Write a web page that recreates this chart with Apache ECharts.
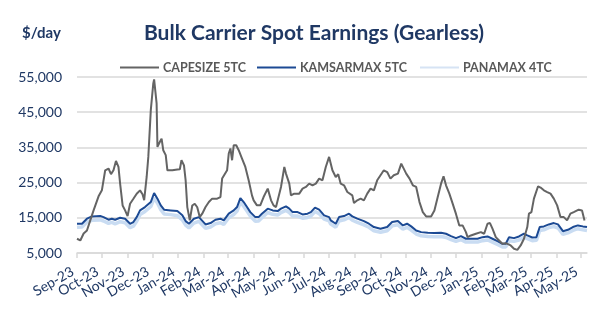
<!DOCTYPE html>
<html>
<head>
<meta charset="utf-8">
<script src="https://cdn.jsdelivr.net/npm/echarts@6/dist/echarts.min.js"></script>
<style>
html,body{margin:0;padding:0;background:#fff;}
#c{width:600px;height:323px;}
</style>
</head>
<body>
<div id="c"></div>
<script>
const seriesNames = ['CAPESIZE 5TC', 'KAMSARMAX 5TC', 'PANAMAX 4TC'];

const capeDates = [
'2023-09-01','2023-09-05','2023-09-09','2023-09-13','2023-09-17','2023-09-21','2023-09-27','2023-10-01','2023-10-05','2023-10-09',
'2023-10-12','2023-10-15','2023-10-18','2023-10-21','2023-10-23','2023-10-26','2023-10-29','2023-11-01','2023-11-04','2023-11-08',
'2023-11-12','2023-11-16','2023-11-19','2023-11-21','2023-11-24','2023-11-26','2023-11-29','2023-12-02','2023-12-03','2023-12-06',
'2023-12-07','2023-12-10','2023-12-12','2023-12-14','2023-12-17','2023-12-19','2023-12-25','2023-12-31','2024-01-03','2024-01-05',
'2024-01-08','2024-01-10','2024-01-12','2024-01-15','2024-01-18','2024-01-21','2024-01-24','2024-01-27','2024-01-30','2024-02-03',
'2024-02-07','2024-02-11','2024-02-17','2024-02-21','2024-02-23','2024-02-29','2024-03-02','2024-03-04','2024-03-06','2024-03-08',
'2024-03-11','2024-03-14','2024-03-18','2024-03-22','2024-03-26','2024-03-30','2024-04-01','2024-04-05','2024-04-09','2024-04-13',
'2024-04-18','2024-04-22','2024-04-25','2024-04-28','2024-04-30','2024-05-04','2024-05-08','2024-05-10','2024-05-14','2024-05-16',
'2024-05-20','2024-05-26','2024-05-30','2024-06-03','2024-06-07','2024-06-11','2024-06-15','2024-06-19','2024-06-23','2024-06-27',
'2024-07-01','2024-07-05','2024-07-09','2024-07-12','2024-07-15','2024-07-19','2024-07-23','2024-07-29','2024-07-31','2024-08-04',
'2024-08-08','2024-08-12','2024-08-16','2024-08-20','2024-08-24','2024-08-28','2024-09-01','2024-09-05','2024-09-09','2024-09-13',
'2024-09-17','2024-09-22','2024-09-26','2024-09-28','2024-10-02','2024-10-06','2024-10-10','2024-10-14','2024-10-18','2024-10-22',
'2024-10-26','2024-11-01','2024-11-05','2024-11-09','2024-11-13','2024-11-16','2024-11-19','2024-11-23','2024-11-27','2024-12-01',
'2024-12-05','2024-12-09','2024-12-13','2024-12-15','2024-12-19','2024-12-25','2024-12-31','2025-01-04','2025-01-08','2025-01-11',
'2025-01-14','2025-01-18','2025-01-22','2025-01-26','2025-01-30','2025-02-05','2025-02-09','2025-02-13','2025-02-17','2025-02-21',
'2025-02-25','2025-02-27','2025-03-02','2025-03-05','2025-03-07','2025-03-10','2025-03-13','2025-03-17','2025-03-21','2025-03-25',
'2025-03-29','2025-04-02','2025-04-06','2025-04-10','2025-04-14','2025-04-18','2025-04-22','2025-04-28','2025-05-02','2025-05-05'
];
const capeValues = [
9050,8560,10550,11400,14260,17100,21100,22800,28500,29000,
27400,28500,31150,29450,24700,18500,17100,15500,19000,20400,
21850,22800,21700,20000,26600,32300,45600,53200,54300,47500,
35150,36600,37500,34200,32800,28500,28500,28700,28800,31350,
29900,25650,18050,14260,18500,19000,18000,15200,16170,18050,
19470,20440,20440,20900,26140,28500,33260,34690,31350,35630,
35630,34200,31830,29440,25650,21380,19960,18530,18530,20900,
23290,19960,18530,18050,17600,23760,29440,27560,24700,21380,
21860,21860,23290,23760,24700,24230,24700,26140,25650,29440,
32300,28500,26600,27360,24700,24230,22320,21380,19190,19960,
20440,19960,21860,23290,22800,25650,27080,28500,28000,26140,
27080,27560,30400,29900,27560,26140,24230,23760,19470,16620,
15400,15400,17100,20900,24700,26800,24230,21860,19020,16100,
12840,12840,10930,9500,9980,10470,10930,10470,13320,13500,
11900,9500,8560,7620,7800,7140,6200,5900,7140,9050,
12370,16170,16620,20440,20900,23950,23600,22800,22320,21860,
20440,18530,15200,15200,14260,16170,16620,17300,17100,14260
];

const kmaxDates = [
'2023-09-01','2023-09-07','2023-09-13','2023-09-19','2023-09-29','2023-10-03','2023-10-09','2023-10-13','2023-10-17','2023-10-23',
'2023-10-29','2023-11-04','2023-11-08','2023-11-12','2023-11-16','2023-11-22','2023-11-29','2023-12-03','2023-12-07','2023-12-11',
'2023-12-15','2023-12-23','2023-12-31','2024-01-06','2024-01-10','2024-01-14','2024-01-20','2024-01-26','2024-01-28','2024-02-03',
'2024-02-09','2024-02-15','2024-02-21','2024-02-25','2024-03-02','2024-03-08','2024-03-12','2024-03-16','2024-03-20','2024-03-24',
'2024-03-28','2024-04-03','2024-04-07','2024-04-11','2024-04-18','2024-04-24','2024-04-30','2024-05-04','2024-05-10','2024-05-14',
'2024-05-18','2024-05-24','2024-05-30','2024-06-05','2024-06-09','2024-06-14','2024-06-19','2024-06-25','2024-07-01','2024-07-03',
'2024-07-09','2024-07-13','2024-07-19','2024-07-25','2024-07-29','2024-08-04','2024-08-12','2024-08-18','2024-08-24','2024-09-01',
'2024-09-09','2024-09-15','2024-09-22','2024-09-28','2024-10-03','2024-10-08','2024-10-14','2024-10-20','2024-10-28','2024-11-05',
'2024-11-13','2024-11-19','2024-11-25','2024-12-01','2024-12-07','2024-12-13','2024-12-19','2024-12-27','2025-01-02','2025-01-08',
'2025-01-14','2025-01-20','2025-01-26','2025-01-30','2025-02-03','2025-02-09','2025-02-15','2025-02-21','2025-02-25','2025-03-03',
'2025-03-08','2025-03-12','2025-03-17','2025-03-23','2025-03-29','2025-04-03','2025-04-09','2025-04-15','2025-04-21','2025-04-27',
'2025-05-03','2025-05-08'
];
const kmaxValues = [
13320,13320,14750,15400,15500,15200,14450,14750,14450,15000,
14750,13300,13800,15200,17100,18050,19470,22040,20440,18530,
17300,17100,16900,15700,14060,13320,14750,15200,14750,13120,
13500,14450,14750,14270,16170,17100,18050,20620,19470,18050,
16620,15200,15200,16170,17600,17100,16900,17600,18250,17600,
16620,16620,15970,16170,16620,17880,17300,15700,15200,14260,
13320,15200,15500,16170,15400,14750,14060,13320,12370,11900,
12370,13800,14060,12840,13320,12560,11410,10930,10750,10660,
10750,10470,9800,9230,9790,9050,9050,9050,9500,9700,
9050,8370,7620,7620,9500,9230,9700,10470,10000,9400,
9500,12370,12560,13120,13500,13120,11200,11600,12370,12840,
12560,12370
];
const pmaxValues = [
12300,12400,13800,14300,14400,14100,13400,13700,13300,13900,
13600,12200,12600,14000,15900,16800,18200,20600,19200,17300,
16100,15900,15600,14400,12900,12100,13500,14000,13600,12000,
12400,13300,13600,13100,15000,15900,16900,19400,18300,16900,
15500,14000,14100,15000,16500,16000,15800,16500,17100,16500,
15500,15500,14900,15100,15500,16800,16200,14600,14100,13200,
12300,14100,14400,15100,14300,13700,13000,12300,11300,10900,
11300,12700,13000,11800,12300,11500,10400,9900,9700,9600,
9700,9400,8800,8300,8800,8100,8100,8100,8500,8700,
8100,7400,6700,6700,8500,8300,8700,9500,9100,8500,
8600,11400,11600,12200,12500,12100,10300,10700,11400,11900,
11600,11400
];

const FONT = 'Lato, "Open Sans", sans-serif';
const NAVY = '#1F3864';
const colors = ['#646464', '#1C4A94', '#C9DCF2'];

function pairs(d, v) { return d.map((x, i) => [x, v[i]]); }

const legendLeft = [120, 257, 420];
const legendIconColor = ['#646464', '#1C4A94', '#D6E3F4'];

const chart = echarts.init(document.getElementById('c'), null, {renderer: 'canvas'});
chart.setOption({
  animation: false,
  backgroundColor: '#fff',
  textStyle: {fontFamily: FONT},
  title: [
    {text: 'Bulk Carrier Spot Earnings (Gearless)', left: 309, textAlign: 'center', top: 18,
     textStyle: {fontFamily: FONT, fontSize: 21, fontWeight: 'bold', color: NAVY}},
    {text: '$/day', left: 17, top: 21,
     textStyle: {fontFamily: FONT, fontSize: 15, fontWeight: 'bold', color: NAVY}}
  ],
  legend: seriesNames.map((n, i) => ({
    data: [{name: n, icon: 'rect', itemStyle: {color: legendIconColor[i]}}],
    left: legendLeft[i], top: 61, padding: 0,
    itemWidth: 39, itemHeight: 2, itemGap: 4,
    textStyle: {fontFamily: FONT, fontSize: 12.5, fontWeight: 'bold', color: '#595959', padding: [0, 0, 0, -1]}
  })),
  grid: {left: 77, right: 13, top: 77, bottom: 70},
  xAxis: {
    type: 'time',
    min: '2023-09-01', max: '2025-05-08',
    splitNumber: 20,
    minInterval: 28 * 86400000,
    maxInterval: 31 * 86400000,
    axisLine: {lineStyle: {color: '#D9D9D9', width: 1.5}},
    axisTick: {show: true, length: 5, lineStyle: {color: '#D9D9D9', width: 1.5}},
    splitLine: {show: false},
    axisLabel: {rotate: 30, margin: 15, padding: [0, 5, 0, 0], color: NAVY, fontSize: 14, fontFamily: FONT,
                formatter: '{MMM}-{yy}'}
  },
  yAxis: {
    type: 'value', min: 5000, max: 55000, interval: 10000,
    axisLine: {show: false}, axisTick: {show: false},
    splitLine: {lineStyle: {color: '#D9D9D9', width: 1.5}},
    axisLabel: {margin: 15, color: NAVY, fontSize: 14, fontFamily: FONT,
                formatter: v => v.toLocaleString('en-US')}
  },
  series: [
    {name: seriesNames[0], type: 'line', symbol: 'none', z: 4,
     lineStyle: {color: colors[0], width: 2}, itemStyle: {color: colors[0]},
     data: pairs(capeDates, capeValues)},
    {name: seriesNames[1], type: 'line', symbol: 'none', z: 3,
     lineStyle: {color: colors[1], width: 2}, itemStyle: {color: colors[1]},
     data: pairs(kmaxDates, kmaxValues)},
    {name: seriesNames[2], type: 'line', symbol: 'none', z: 2,
     lineStyle: {color: colors[2], width: 3.5}, itemStyle: {color: colors[2]},
     data: pairs(kmaxDates, pmaxValues)}
  ]
});
</script>
</body>
</html>
